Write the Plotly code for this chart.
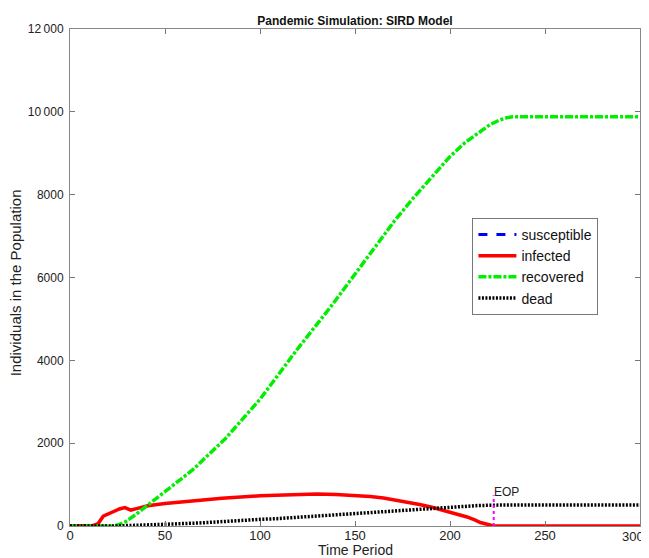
import plotly.graph_objects as go

# Data
inf_t = [0, 5, 9, 12, 14, 15, 17.5, 20, 22.8, 26, 28.9, 30.5, 32, 35, 38, 41, 50, 64, 80, 100, 115, 130, 140, 150, 158, 165, 171, 177, 184, 191, 200, 205, 209, 213, 216, 220, 223, 300]
inf_v = [0, 0, 5, 15, 40, 70, 235, 290, 357, 410, 446, 420, 385, 420, 455, 490, 545, 607, 670, 730, 760, 770, 762, 740, 712, 675, 632, 583, 520, 446, 340, 280, 218, 145, 85, 35, 0, 0]

rec_t = [0, 23, 26, 29, 35, 40.7, 50, 64.5, 82, 100, 107, 119, 138, 159, 171, 180, 186, 200, 208, 215, 221, 226, 230, 233, 240, 300]
rec_v = [0, 0, 40, 97, 290, 495, 840, 1352, 2120, 3060, 3490, 4230, 5340, 6640, 7380, 7880, 8200, 8920, 9260, 9500, 9690, 9800, 9860, 9880, 9880, 9880]

dead_t = [0, 23, 40, 50, 68, 100, 109, 150, 200, 215, 226, 233, 300]
dead_v = [0, 0, 25, 45, 73, 160, 178, 300, 465, 495, 505, 510, 510]

# susceptible curve lies outside the visible range (no marks visible in the picture)
sus_t = [None]
sus_v = [None]

eop_t = 223
eop_top = 740

x_ticks = [0, 50, 100, 150, 200, 250, 300]
x_tick_text = ["0", "50", "100", "150", "200", "250", ""]   # last label drawn separately so it fits at the edge
x_last_label = "300"
y_ticks = [0, 2000, 4000, 6000, 8000, 10000, 12000]
y_tick_text = ["0", "2000", "4000", "6000", "8000", "10\u2009000", "12\u2009000"]

FONT = "Liberation Sans, Arial, Helvetica, sans-serif"

fig = go.Figure()
fig.add_trace(go.Scatter(x=sus_t, y=sus_v, mode="lines", name="susceptible",
                         line=dict(color="#0000ff", width=3, dash="dash")))
fig.add_trace(go.Scatter(x=inf_t, y=inf_v, mode="lines", name="infected",
                         line=dict(color="#ff0000", width=3.5)))
fig.add_trace(go.Scatter(x=rec_t, y=rec_v, mode="lines", name="recovered",
                         line=dict(color="#00ee00", width=3.5, dash="8px,2px,3px,2px")))
fig.add_trace(go.Scatter(x=dead_t, y=dead_v, mode="lines", name="dead",
                         line=dict(color="#000000", width=3.5, dash="2px,1.5px")))
fig.add_trace(go.Scatter(x=[eop_t, eop_t], y=[0, eop_top], mode="lines", showlegend=False,
                         line=dict(color="#ff00ff", width=2, dash="dot")))

fig.add_annotation(x=eop_t, y=600, text="EOP", showarrow=False, xanchor="left", yanchor="bottom",
                   xshift=-2, font=dict(size=12, color="#222222", family=FONT))

# last x tick label, right-aligned so it stays inside the window
fig.add_annotation(x=x_ticks[-1], xref="x", yref="paper", y=-0.0221, text=x_last_label, showarrow=False,
                   xanchor="right", yanchor="middle", xshift=6,
                   font=dict(size=13, color="#222222", family=FONT))

# axis titles placed as annotations for exact placement
fig.add_annotation(xref="paper", yref="paper", x=0.5, y=-0.0483, text="Time Period", showarrow=False,
                   xanchor="center", yanchor="middle", font=dict(size=14, color="#222222", family=FONT))
fig.add_annotation(xref="paper", yref="paper", x=-0.095, y=0.49, text="Individuals in the Population",
                   textangle=-90, showarrow=False, xanchor="center", yanchor="middle",
                   font=dict(size=15, color="#222222", family=FONT))

# the page adds an 8px body margin, so the figure is sized to fill the rest of the window
fig.update_layout(
    width=641, height=550,
    margin=dict(l=62, r=9, t=21, b=32, autoexpand=False),
    paper_bgcolor="white", plot_bgcolor="white",
    font=dict(family=FONT, size=12, color="#222222"),
    title=dict(text="<b>Pandemic Simulation: SIRD Model</b>", x=0.5, xref="paper", xanchor="center",
               y=1, yref="paper", yanchor="bottom", pad=dict(b=4),
               font=dict(size=12, color="#111111")),
    showlegend=True,
    legend=dict(x=0.706, y=0.62, xanchor="left", yanchor="top",
                bgcolor="white", bordercolor="#777777", borderwidth=1,
                font=dict(size=14, color="#111111"), tracegroupgap=0, itemwidth=38),
)
fig.update_xaxes(range=[0, 300], tickvals=x_ticks, ticktext=x_tick_text, ticks="inside", ticklen=5,
                 tickcolor="#777777", showline=True, linecolor="#888888", linewidth=1, mirror="ticks",
                 showgrid=False, zeroline=False, automargin=False, tickfont=dict(size=13),
                 ticklabelstandoff=-3, ticklabeloverflow="allow")
fig.update_yaxes(range=[0, 12000], tickvals=y_ticks, ticktext=y_tick_text, ticks="inside", ticklen=5,
                 tickcolor="#777777", showline=True, linecolor="#888888", linewidth=1, mirror="ticks",
                 showgrid=False, zeroline=False, automargin=False, tickfont=dict(size=12),
                 ticklabelstandoff=3, ticklabeloverflow="allow")

fig.write_html("out.html")
